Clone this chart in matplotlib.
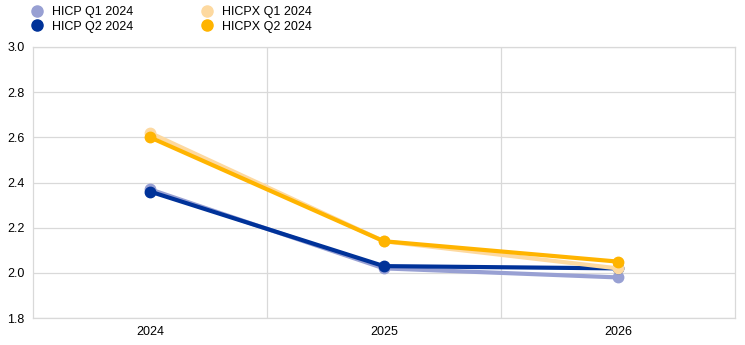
import numpy as np
import matplotlib.pyplot as plt

plt.rcParams['font.family'] = ['Liberation Sans', 'DejaVu Sans']

years = ["2024", "2025", "2026"]
hicp_q1 = [2.37, 2.02, 1.98]
hicp_q2 = [2.36, 2.03, 2.02]
hicpx_q1 = [2.62, 2.14, 2.02]
hicpx_q2 = [2.60, 2.14, 2.05]

series = [
    ("HICP Q1 2024", hicp_q1, "#98a0d3"),
    ("HICP Q2 2024", hicp_q2, "#003299"),
    ("HICPX Q1 2024", hicpx_q1, "#fdd9a0"),
    ("HICPX Q2 2024", hicpx_q2, "#ffb400"),
]

fig = plt.figure(figsize=(7.45, 3.45), dpi=100)
ax = fig.add_axes([0.0443, 0.078, 0.942, 0.786])

x = np.arange(len(years))
for label, vals, col in series:
    ax.plot(x, vals, color=col, lw=3, marker="o", ms=7.5, label=label,
            solid_capstyle="round")

ax.set_xlim(-0.5, 2.5)
ax.set_ylim(1.8, 3.0)
ax.set_yticks(np.arange(1.8, 3.01, 0.2))
ax.set_yticklabels([f"{v:.1f}" for v in np.arange(1.8, 3.01, 0.2)])
ax.set_xticks(x)
ax.set_xticklabels(years)
ax.set_xticks([0.5, 1.5], minor=True)
ax.grid(axis="y", color="#d9d9d9", lw=0.9)
ax.grid(axis="x", which="minor", color="#d9d9d9", lw=0.9)
ax.set_axisbelow(True)
for s in ax.spines.values():
    s.set_color("#d9d9d9")
    s.set_linewidth(0.9)
ax.tick_params(which="both", length=0, labelsize=9, pad=6)

handles, labels = ax.get_legend_handles_labels()
leg = fig.legend(handles, labels,
                 loc="upper left", bbox_to_anchor=(0.025, 1.015), ncol=2,
                 frameon=False, fontsize=9, handlelength=1.2,
                 handletextpad=0.6, columnspacing=5.3, labelspacing=0.2)
for h in leg.legend_handles:
    h.set_linestyle("none")
    h.set_markersize(8)

fig.savefig("out.png", dpi=100)
